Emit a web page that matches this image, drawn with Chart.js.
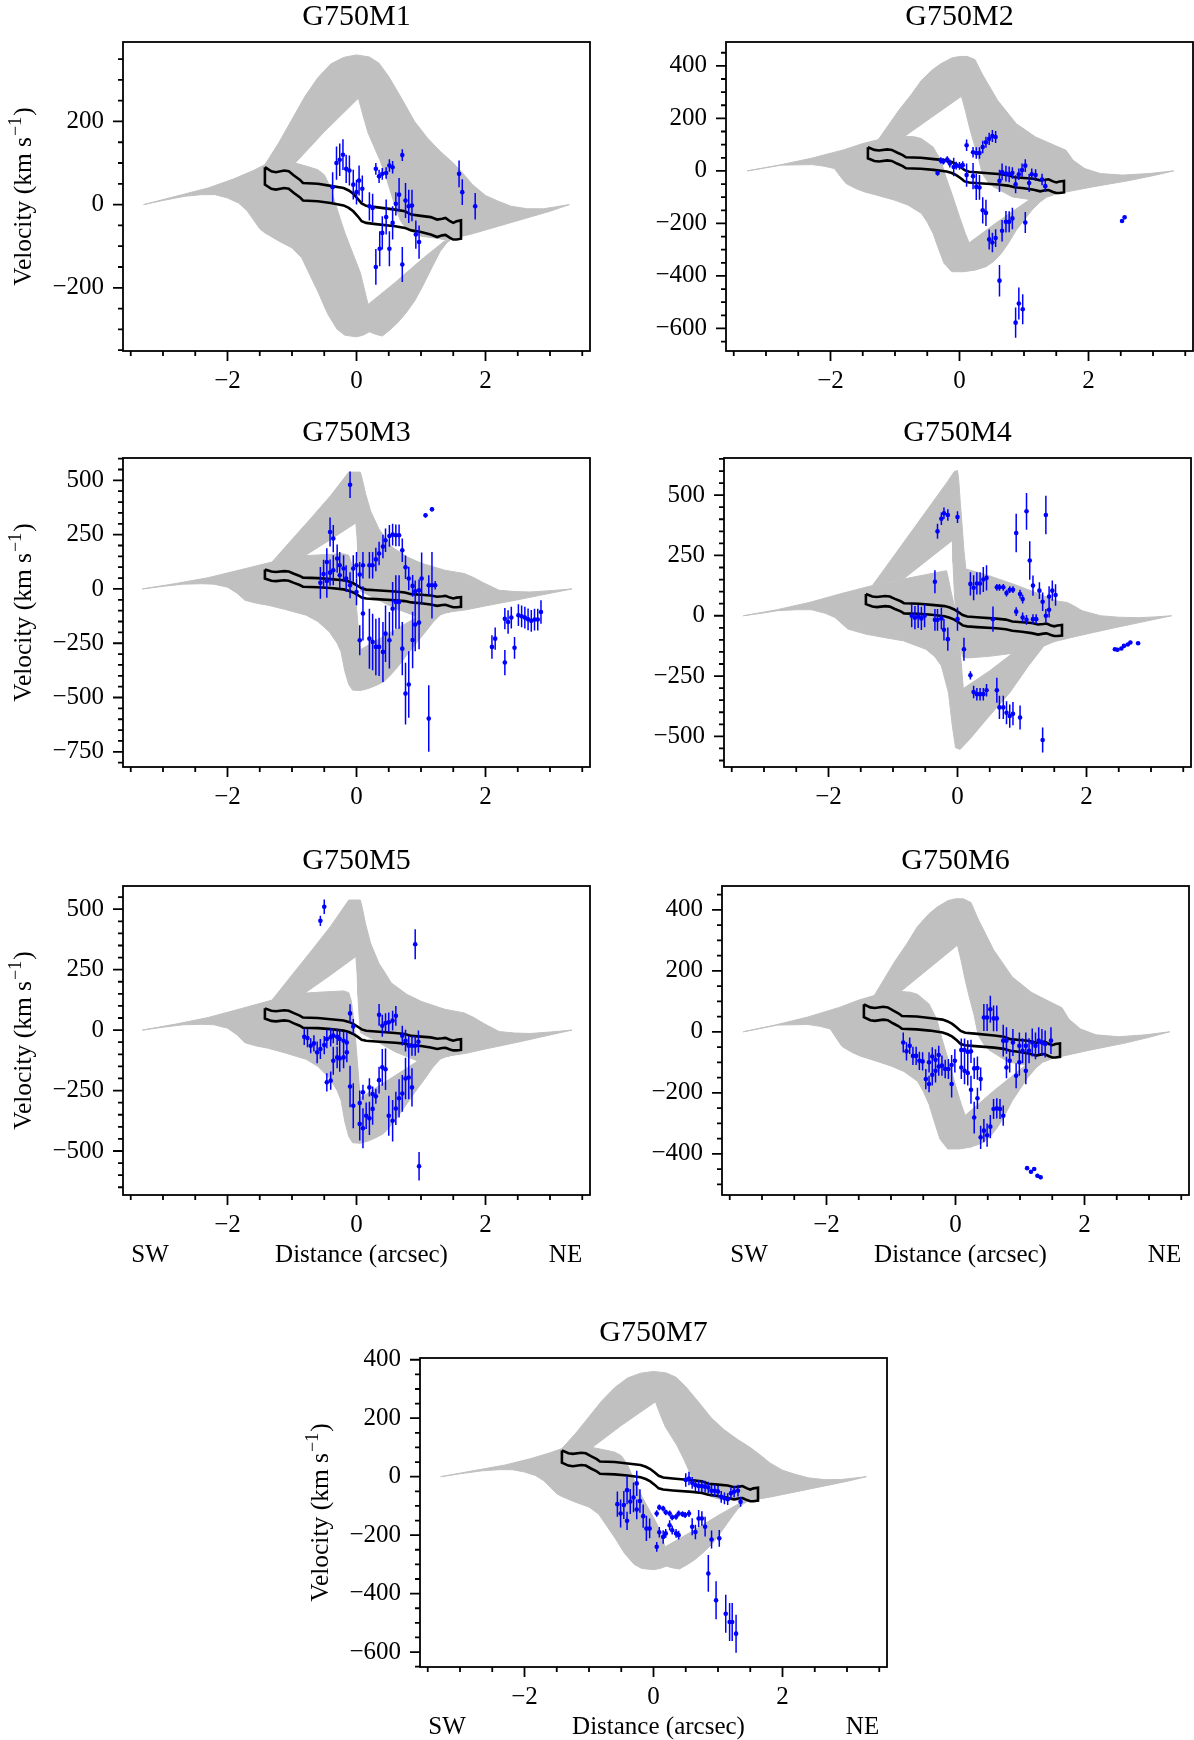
<!DOCTYPE html>
<html>
<head>
<meta charset="utf-8">
<script src="https://cdn.jsdelivr.net/npm/chart.js@4.4.1/dist/chart.umd.min.js"></script>
<style>
  body { margin: 0; background: #fff; }
  #page { position: relative; width: 1194px; height: 1740px; overflow: hidden; background: #fff; }
  #page canvas { position: absolute; }
</style>
</head>
<body>
<div id="page"></div>
<script>
// ---- model envelopes: [distance, velocity] along each edge ----
// band "U" = upper / NE side, band "L" = lower / SW side
const aUHi = [[-1.42,96],[-1.2,150],[-1.0,205],[-0.8,260],[-0.6,305],[-0.4,338],[-0.2,354],[0,360],[0.2,355],[0.35,340],[0.5,308],[0.7,255],[0.9,200],[1.1,160],[1.3,128],[1.5,100],[1.65,75],[1.8,48],[2.0,22],[2.2,8],[2.4,-4],[2.65,-10],[2.9,-10],[3.1,-5],[3.3,0]];
const aULo = [[-1.42,96],[-0.95,100],[-0.5,175],[0.03,256],[0.1,215],[0.18,172],[0.27,140],[0.36,108],[0.47,60],[0.59,0],[0.68,-38],[0.77,-58],[1.0,-76],[1.2,-80],[1.36,-84],[1.48,-82],[1.8,-70],[2.2,-52],[2.6,-34],[3.0,-16],[3.3,0]];
const aLHi = [[-3.3,0],[-2.8,20],[-2.3,40],[-1.9,62],[-1.6,82],[-1.42,96],[-1.2,98],[-0.95,100],[-0.77,92],[-0.6,84],[-0.5,72],[-0.41,44],[-0.33,4],[-0.25,-35],[-0.18,-68],[-0.05,-120],[0.06,-164],[0.18,-240],[0.6,-187],[1.0,-133],[1.36,-88],[1.48,-82]];
const aLLo = [[-3.3,0],[-3.0,10],[-2.66,20],[-2.4,24],[-2.19,24],[-2.0,16],[-1.83,4],[-1.7,-14],[-1.6,-36],[-1.5,-58],[-1.42,-68],[-1.2,-88],[-1.0,-104],[-0.85,-128],[-0.72,-170],[-0.59,-212],[-0.45,-262],[-0.3,-300],[-0.18,-314],[0.0,-318],[0.1,-314],[0.2,-306],[0.3,-312],[0.4,-316],[0.53,-300],[0.65,-282],[0.77,-260],[0.9,-232],[1.0,-204],[1.18,-148],[1.3,-112],[1.4,-92],[1.48,-82]];

const bUHi = [[-1.26,119],[-1.1,175],[-0.94,231],[-0.75,290],[-0.59,345],[-0.42,385],[-0.29,408],[-0.12,430],[0.0,436],[0.12,436],[0.24,424],[0.35,370],[0.59,269],[0.88,180],[1.18,129],[1.47,98],[1.65,79],[1.76,41],[1.94,9],[2.18,-10],[2.53,-16],[2.94,-10],[3.32,0]];
const bULo = [[-1.26,119],[-0.85,132],[0.03,284],[0.09,231],[0.15,170],[0.21,117],[0.29,53],[0.35,-10],[0.45,-45],[0.53,-61],[0.82,-99],[1.09,-109],[1.3,-100],[1.53,-86],[2.06,-61],[2.65,-36],[3.0,-18],[3.32,0]];
const bLHi = [[-3.29,0],[-2.8,22],[-2.3,48],[-1.8,80],[-1.5,104],[-1.26,119],[-1.05,126],[-0.85,132],[-0.7,130],[-0.59,123],[-0.41,91],[-0.29,41],[-0.21,-23],[-0.12,-86],[0.0,-175],[0.09,-238],[0.15,-274],[0.59,-194],[1.09,-109],[1.3,-100],[1.45,-92]];
const bLLo = [[-3.29,0],[-3.0,12],[-2.76,22],[-2.29,24],[-2.1,18],[-1.94,9],[-1.85,-20],[-1.76,-48],[-1.6,-68],[-1.47,-80],[-1.2,-98],[-1.0,-112],[-0.8,-130],[-0.59,-162],[-0.5,-195],[-0.41,-238],[-0.32,-300],[-0.24,-352],[-0.12,-384],[0.06,-384],[0.24,-378],[0.41,-365],[0.53,-345],[0.65,-314],[0.76,-275],[0.88,-226],[1.0,-188],[1.12,-150],[1.25,-118],[1.35,-100],[1.45,-92]];

const cUHi = [[-1.31,124],[-1.0,228],[-0.7,328],[-0.4,430],[-0.12,538],[0.06,538],[0.09,505],[0.14,440],[0.22,358],[0.35,275],[0.42,247],[0.54,195],[0.78,148],[1.01,118],[1.37,86],[1.67,71],[1.82,52],[1.97,28],[2.21,-6],[2.45,-12],[2.69,-14],[3.0,-8],[3.34,0]];
const cULo = [[-1.31,124],[-0.8,153],[-0.4,228],[-0.01,304],[0.01,230],[0.02,150],[0.04,60],[0.06,-10],[0.3,-45],[0.6,-90],[0.95,-128],[1.2,-115],[1.45,-106],[1.7,-96],[2.0,-78],[2.5,-50],[3.0,-20],[3.34,0]];
const cLHi = [[-3.32,0],[-2.8,25],[-2.3,52],[-1.8,88],[-1.31,124],[-1.0,142],[-0.8,153],[-0.5,158],[-0.2,162],[-0.12,155],[-0.08,120],[-0.05,60],[-0.02,-20],[0.01,-120],[0.04,-220],[0.06,-280],[0.5,-205],[0.95,-128],[1.2,-115],[1.45,-106]];
const cLLo = [[-3.32,0],[-3.0,12],[-2.69,22],[-2.4,24],[-2.21,22],[-2.0,8],[-1.85,-20],[-1.73,-52],[-1.55,-66],[-1.37,-75],[-1.1,-95],[-0.78,-121],[-0.6,-150],[-0.42,-198],[-0.3,-250],[-0.24,-290],[-0.18,-380],[-0.12,-440],[-0.06,-466],[0.06,-468],[0.18,-459],[0.3,-445],[0.42,-428],[0.55,-390],[0.66,-351],[0.78,-305],[0.9,-259],[1.05,-205],[1.19,-152],[1.3,-120],[1.37,-112],[1.45,-106]];

const dUHi = [[-1.32,125],[-1.0,243],[-0.7,354],[-0.4,465],[-0.15,558],[-0.05,598],[0.0,602],[0.02,560],[0.04,480],[0.07,380],[0.1,270],[0.13,194],[0.5,165],[0.9,128],[1.25,92],[1.52,62],[1.7,55],[1.8,42],[1.93,21],[2.22,0],[2.5,-6],[2.8,-8],[3.05,-5],[3.32,0]];
const dULo = [[-1.32,125],[-0.84,152],[-0.08,312],[-0.07,220],[-0.05,100],[-0.03,20],[0.0,-60],[0.04,-130],[0.08,-170],[0.15,-175],[0.5,-168],[0.87,-155],[1.2,-140],[1.45,-112],[1.55,-104],[1.8,-88],[2.11,-69],[2.4,-52],[2.7,-35],[3.0,-18],[3.32,0]];
const dLHi = [[-3.32,0],[-2.8,25],[-2.3,55],[-1.8,92],[-1.32,125],[-1.0,140],[-0.84,152],[-0.5,170],[-0.17,187],[-0.14,152],[-0.1,100],[-0.05,42],[0.01,-83],[0.05,-170],[0.07,-235],[0.09,-302],[0.5,-228],[0.87,-152],[1.2,-135],[1.45,-112]];
const dLLo = [[-3.32,0],[-3.0,12],[-2.79,21],[-2.5,25],[-2.26,25],[-2.05,10],[-1.9,-7],[-1.7,-55],[-1.43,-76],[-1.1,-92],[-0.84,-104],[-0.49,-139],[-0.35,-170],[-0.25,-208],[-0.14,-319],[-0.08,-457],[-0.03,-547],[0.04,-554],[0.19,-512],[0.45,-429],[0.81,-319],[1.1,-208],[1.34,-125],[1.45,-112]];

// slit footprint of the rotation-curve fit (closed outline)
const fitOutline = [[-1.42,90],[-1.32,80],[-1.25,78],[-1.12,82],[-1.05,80],[-0.97,70],[-0.88,60],[-0.83,52],[-0.6,50],[-0.4,45],[-0.2,40],[-0.12,34],[-0.05,26],[0.02,14],[0.08,3],[0.15,-3],[0.3,-6],[0.6,-12],[0.75,-16],[0.85,-24],[1.0,-27],[1.15,-30],[1.25,-36],[1.33,-34],[1.38,-32],[1.45,-40],[1.5,-44],[1.55,-40],[1.62,-38],
  [1.62,-82],[1.55,-84],[1.5,-84],[1.45,-80],[1.38,-73],[1.33,-74],[1.25,-78],[1.15,-72],[1.0,-66],[0.85,-62],[0.75,-56],[0.6,-52],[0.3,-47],[0.15,-44],[0.08,-40],[0.02,-28],[-0.05,-16],[-0.12,-8],[-0.2,-2],[-0.4,4],[-0.6,8],[-0.83,10],[-0.88,18],[-0.97,28],[-1.05,38],[-1.12,40],[-1.25,36],[-1.32,38],[-1.42,48],[-1.42,90]];

// ---- measured velocities: [distance (arcsec), velocity (km/s), error] ----
const g750m1 = [[-0.37,42,36],[-0.31,100,40],[-0.26,108,39],[-0.21,120,37],[-0.16,86,34],[-0.11,82,36],[-0.05,48,36],[0.0,30,30],[0.04,58,36],[0.09,38,32],[0.2,-4,34],[0.25,-8,34],[0.3,86,14],[0.35,68,16],[0.4,74,14],[0.46,76,14],[0.51,94,15],[0.56,90,15],[0.71,119,14],[0.61,2,28],[0.66,24,40],[0.76,10,42],[0.81,-4,40],[0.86,-2,38],[0.92,-72,34],[0.97,-90,40],[0.3,-150,43],[0.36,-106,42],[0.4,-68,40],[0.46,-30,42],[0.51,-106,42],[0.56,-44,40],[0.71,-144,42],[1.59,74,32],[1.64,30,31],[1.84,-4,32]];
const g750m2 = [[-0.34,-8,10],[-0.29,40,12],[-0.25,36,12],[-0.19,43,13],[-0.15,28,15],[-0.09,15,35],[-0.05,20,15],[0.0,19,15],[0.05,22,15],[0.11,98,22],[0.11,-16,44],[0.21,71,20],[0.21,-20,50],[0.26,68,22],[0.26,-61,50],[0.31,68,22],[0.31,-63,47],[0.36,91,24],[0.36,-150,50],[0.41,109,21],[0.41,-160,50],[0.46,122,23],[0.51,133,23],[0.56,129,23],[0.46,-261,38],[0.51,-273,37],[0.56,-256,34],[0.62,-38,42],[0.66,-4,32],[0.66,-228,41],[0.72,-10,30],[0.72,-194,41],[0.77,-13,30],[0.77,-194,40],[0.82,-8,22],[0.82,-181,41],[0.87,-51,34],[0.92,-13,22],[0.97,3,25],[1.02,20,24],[1.02,-197,40],[1.08,-46,34],[1.12,-13,22],[1.18,-16,22],[1.28,-33,22],[1.33,-58,22],[0.62,-418,60],[0.87,-578,58],[0.92,-505,61],[0.98,-527,57],[2.52,-191,5],[2.56,-177,5]];
const g750m3 = [[-0.56,28,73],[-0.51,69,65],[-0.46,124,63],[-0.46,37,77],[-0.41,262,67],[-0.41,75,60],[-0.36,232,63],[-0.36,86,69],[-0.3,140,65],[-0.26,109,61],[-0.26,63,60],[-0.2,94,61],[-0.16,48,61],[-0.1,17,60],[-0.1,480,61],[-0.05,94,61],[0.0,109,61],[0.0,-14,61],[0.05,66,58],[0.05,-236,69],[0.1,109,61],[0.1,-113,125],[0.2,-229,138],[0.2,109,61],[0.25,109,61],[0.25,-244,130],[0.3,136,54],[0.3,-267,130],[0.35,163,54],[0.35,-267,134],[0.41,195,54],[0.41,-290,138],[0.45,224,54],[0.45,-206,130],[0.51,244,50],[0.51,-236,130],[0.56,250,50],[0.56,-91,123],[0.61,247,50],[0.61,-60,123],[0.66,247,50],[0.66,-60,123],[0.71,178,54],[0.71,-275,123],[0.76,100,54],[0.76,-482,142],[0.81,48,54],[0.81,-440,153],[0.87,14,50],[0.87,-235,130],[0.91,-11,50],[0.91,-164,123],[0.97,-6,50],[0.97,-155,123],[1.01,48,120],[1.07,339,10],[1.12,17,46],[1.12,-597,153],[1.17,367,10],[1.17,17,153],[1.22,17,20],[2.1,-267,54],[2.15,-229,51],[2.3,-137,49],[2.3,-339,58],[2.35,-152,54],[2.4,-132,50],[2.45,-271,50],[2.51,-121,50],[2.56,-126,50],[2.61,-132,50],[2.66,-140,50],[2.71,-147,50],[2.76,-141,50],[2.81,-141,50],[2.86,-106,54]];
const g750m4 = [[-0.71,0,48],[-0.66,-8,48],[-0.61,-3,48],[-0.56,-11,48],[-0.51,0,48],[-0.35,141,48],[-0.35,-17,45],[-0.31,350,31],[-0.31,-17,45],[-0.25,402,26],[-0.25,-11,45],[-0.21,425,24],[-0.21,-58,45],[-0.15,418,24],[-0.15,-97,48],[0.0,409,24],[0.0,-14,48],[0.1,-139,48],[0.2,-247,17],[0.2,132,48],[0.25,116,52],[0.3,134,46],[0.35,134,46],[0.25,-316,26],[0.3,-325,26],[0.35,-325,26],[0.4,-325,26],[0.45,-309,26],[0.4,150,52],[0.45,157,52],[0.55,-14,52],[0.61,-309,52],[0.61,118,14],[0.65,118,14],[0.71,118,14],[0.65,-380,48],[0.71,-380,48],[0.76,94,14],[0.76,-402,48],[0.81,108,14],[0.81,-416,48],[0.86,108,14],[0.86,-406,48],[0.91,343,80],[0.91,17,18],[0.97,90,18],[0.97,-422,50],[1.01,69,18],[1.01,-7,20],[1.07,433,76],[1.07,-17,20],[1.12,229,80],[1.17,125,42],[1.17,-14,20],[1.22,-14,20],[1.27,104,35],[1.32,-515,52],[1.32,58,38],[1.37,418,80],[1.37,0,28],[1.42,80,42],[1.42,25,32],[1.47,104,42],[1.52,86,45],[2.44,-139,6],[2.48,-141,6],[2.54,-136,6],[2.58,-125,6],[2.64,-119,6],[2.68,-111,6],[2.8,-114,6]];
const g750m5 = [[-0.56,452,21],[-0.5,510,30],[-0.81,-28,34],[-0.76,-33,38],[-0.71,-65,31],[-0.66,-55,34],[-0.61,-92,45],[-0.56,-78,41],[-0.5,-62,38],[-0.46,-37,38],[-0.46,-216,38],[-0.4,-209,38],[-0.4,-30,38],[-0.36,-127,58],[-0.36,-23,31],[-0.3,-113,45],[-0.3,-28,34],[-0.26,-117,55],[-0.26,-37,38],[-0.2,-113,45],[-0.2,-44,38],[-0.15,-92,41],[-0.15,-51,41],[-0.1,-233,86],[-0.1,69,38],[-0.05,15,31],[-0.05,-313,93],[0.05,-302,52],[0.05,-388,69],[0.1,-406,83],[0.1,-257,31],[0.15,-354,55],[0.2,-365,69],[0.2,-237,38],[0.25,-326,65],[0.25,-264,31],[0.3,-274,31],[0.35,-207,55],[0.35,63,45],[0.4,18,45],[0.4,-154,76],[0.45,-162,86],[0.45,29,41],[0.5,32,41],[0.5,-354,83],[0.56,-375,86],[0.56,39,41],[0.61,59,41],[0.61,-324,69],[0.66,-282,79],[0.71,-262,76],[0.71,-23,41],[0.76,-44,45],[0.76,-200,86],[0.81,-196,90],[0.81,-65,41],[0.86,-237,79],[0.86,-65,41],[0.91,-65,41],[0.91,355,62],[0.96,-48,46],[0.97,-563,59]];
const g750m6 = [[-0.81,-35,33],[-0.76,-64,30],[-0.71,-46,27],[-0.66,-79,30],[-0.61,-79,30],[-0.56,-95,30],[-0.51,-97,30],[-0.46,-155,33],[-0.41,-171,27],[-0.41,-100,33],[-0.36,-141,35],[-0.36,-81,30],[-0.31,-128,38],[-0.31,-92,35],[-0.26,-114,30],[-0.26,-76,30],[-0.21,-111,33],[-0.16,-122,30],[-0.11,-122,33],[-0.06,-171,44],[-0.06,-109,33],[-0.01,-95,38],[0.09,-60,38],[0.09,-117,38],[0.14,-60,38],[0.14,-128,44],[0.19,-66,38],[0.19,-135,41],[0.24,-64,38],[0.24,-190,46],[0.29,-120,35],[0.29,-281,52],[0.34,-119,38],[0.34,-218,35],[0.39,-155,38],[0.39,-346,38],[0.44,-324,38],[0.44,47,44],[0.49,-339,38],[0.49,47,44],[0.54,-311,38],[0.54,74,44],[0.59,44,42],[0.59,-253,33],[0.64,44,42],[0.64,-251,33],[0.69,-253,33],[0.74,-29,52],[0.74,-275,33],[0.79,-29,44],[0.79,-117,35],[0.84,-95,38],[0.89,-35,44],[0.94,-144,41],[0.99,-100,44],[0.99,-46,44],[1.04,-62,41],[1.09,-128,44],[1.09,-46,44],[1.14,-62,41],[1.19,-35,46],[1.24,-46,44],[1.29,-29,44],[1.34,-35,44],[1.39,-40,44],[1.48,-29,44],[1.11,-447,6],[1.17,-459,6],[1.22,-450,6],[1.27,-472,6],[1.32,-477,6]];
const g750m7 = [[-0.56,-94,43],[-0.51,-126,48],[-0.46,-97,48],[-0.41,-151,31],[-0.41,-46,48],[-0.36,-85,43],[-0.31,-71,51],[-0.26,-23,43],[-0.26,-112,34],[-0.21,-83,40],[-0.16,-135,40],[-0.11,-177,43],[-0.06,-177,34],[0.05,-240,17],[0.05,-126,11],[0.09,-105,10],[0.09,-190,18],[0.15,-109,10],[0.15,-206,23],[0.19,-194,15],[0.19,-122,10],[0.25,-126,10],[0.25,-166,17],[0.29,-183,15],[0.29,-139,10],[0.35,-137,10],[0.35,-194,15],[0.39,-200,15],[0.39,-126,10],[0.45,-128,10],[0.49,-131,10],[0.55,-126,12],[0.5,-11,23],[0.55,-6,23],[0.6,-21,20],[0.6,-171,29],[0.65,-29,20],[0.65,-189,25],[0.7,-32,20],[0.7,-143,29],[0.75,-32,20],[0.75,-143,25],[0.8,-34,20],[0.8,-171,34],[0.85,-37,20],[0.85,-331,63],[0.9,-48,20],[0.9,-215,31],[0.95,-48,20],[0.97,-423,65],[1.0,-51,20],[1.02,-211,29],[1.05,-69,20],[1.1,-74,20],[1.12,-469,65],[1.15,-77,20],[1.18,-497,65],[1.22,-497,65],[1.2,-57,20],[1.25,-51,20],[1.28,-537,65],[1.31,-48,20],[1.35,-86,17]];

// ---- axes ----
const xTicks = [-2, 0, 2];
const yTicks1 = [-200, 0, 200];
const yTicks2 = [-600, -400, -200, 0, 200, 400];
const yTicks3 = [-750, -500, -250, 0, 250, 500];
const yTicks4 = [-500, -250, 0, 250, 500];
const yTicks5 = [-500, -250, 0, 250, 500];
const yTicks6 = [-400, -200, 0, 200, 400];
const yTicks7 = [-600, -400, -200, 0, 200, 400];

const X_MIN = -3.62, X_MAX = 3.62;
const FONT = '"Liberation Serif", "Times New Roman", serif';
const GRAY = '#c0c0c0';
const BLUE = '#0000ff';

Chart.defaults.font.family = FONT;

const models = {
  A: [aUHi, aULo, aLHi, aLLo],
  B: [bUHi, bULo, bLHi, bLLo],
  C: [cUHi, cULo, cLHi, cLLo],
  D: [dUHi, dULo, dLHi, dLLo]
};

// panel layout (plot box left/top in page pixels)
const BOX_W = 467, BOX_H = 309;
const panels = [
  { title: 'G750M1', pts: g750m1, model: 'A', yMin: -352, yMax: 391, yTicks: yTicks1, left: 123, top: 42, yLabel: true, xLabel: false },
  { title: 'G750M2', pts: g750m2, model: 'B', yMin: -686, yMax: 491, yTicks: yTicks2, left: 726, top: 42, yLabel: false, xLabel: false },
  { title: 'G750M3', pts: g750m3, model: 'C', yMin: -820, yMax: 603, yTicks: yTicks3, left: 123, top: 458, yLabel: true, xLabel: false },
  { title: 'G750M4', pts: g750m4, model: 'D', yMin: -627, yMax: 654, yTicks: yTicks4, left: 724, top: 458, yLabel: false, xLabel: false },
  { title: 'G750M5', pts: g750m5, model: 'C', yMin: -682, yMax: 596, yTicks: yTicks5, left: 123, top: 886, yLabel: true, xLabel: true },
  { title: 'G750M6', pts: g750m6, model: 'B', yMin: -535, yMax: 478, yTicks: yTicks6, left: 722, top: 886, yLabel: false, xLabel: true },
  { title: 'G750M7', pts: g750m7, model: 'A', yMin: -651, yMax: 406, yTicks: yTicks7, left: 420, top: 1358, yLabel: true, xLabel: true }
];

const M_LEFT = 125, M_TOP = 50, M_RIGHT = 12, M_BOTTOM = 85;
const TICK_FONT = { family: FONT, size: 25 };

const toXY = arr => arr.map(([x, y]) => ({ x, y }));
const fmt = v => (v < 0 ? '\u2212' + Math.abs(v) : String(v));

function decor(p) {
  return {
    id: 'decor',
    beforeDatasetDraw(chart, args) {
      if (args.index !== 0) return;
      // vertical error bars under the blue points
      const { ctx, chartArea: ca, scales } = chart;
      ctx.save();
      ctx.beginPath();
      ctx.rect(ca.left, ca.top, ca.right - ca.left, ca.bottom - ca.top);
      ctx.clip();
      ctx.strokeStyle = BLUE;
      ctx.lineWidth = 1.5;
      ctx.beginPath();
      p.pts.forEach(([d, v, e]) => {
        const px = scales.x.getPixelForValue(d);
        ctx.moveTo(px, scales.y.getPixelForValue(v + e));
        ctx.lineTo(px, scales.y.getPixelForValue(v - e));
      });
      ctx.stroke();
      ctx.restore();
    },
    afterDraw(chart) {
      const { ctx, chartArea: ca, scales } = chart;
      ctx.save();
      ctx.strokeStyle = '#000';
      ctx.lineWidth = 1.8;
      ctx.strokeRect(ca.left, ca.top, ca.right - ca.left, ca.bottom - ca.top);

      // major and minor tick marks, pointing outward
      ctx.beginPath();
      for (let k = -7; k <= 7; k++) {
        const v = k / 2;
        const len = xTicks.includes(v) ? 10 : 5;
        const px = scales.x.getPixelForValue(v);
        ctx.moveTo(px, ca.bottom);
        ctx.lineTo(px, ca.bottom + len);
      }
      for (let v = Math.ceil(p.yMin / 50) * 50; v <= p.yMax; v += 50) {
        const len = p.yTicks.includes(v) ? 10 : 5;
        const py = scales.y.getPixelForValue(v);
        ctx.moveTo(ca.left, py);
        ctx.lineTo(ca.left - len, py);
      }
      ctx.stroke();

      ctx.fillStyle = '#000';
      const cx = (ca.left + ca.right) / 2;
      ctx.font = '30px ' + FONT;
      ctx.textAlign = 'center';
      ctx.textBaseline = 'middle';
      ctx.fillText(p.title, cx, ca.top - 24.5);

      if (p.xLabel) {
        ctx.font = '25px ' + FONT;
        const y = ca.bottom + 60;
        ctx.fillText('SW', ca.left + 27, y);
        ctx.fillText('Distance (arcsec)', cx + 5, y);
        ctx.fillText('NE', ca.right - 24.5, y);
      }

      if (p.yLabel) {
        ctx.translate(ca.left - 100, (ca.top + ca.bottom) / 2);
        ctx.rotate(-Math.PI / 2);
        const main = '25.5px ' + FONT, sup = '18px ' + FONT;
        const t1 = 'Velocity (km s', t2 = '\u22121', t3 = ')';
        ctx.font = main;
        const w1 = ctx.measureText(t1).width, w3 = ctx.measureText(t3).width;
        ctx.font = sup;
        const w2 = ctx.measureText(t2).width;
        const x0 = -(w1 + w2 + w3 + 2) / 2;
        const base = 8;
        ctx.textAlign = 'left';
        ctx.textBaseline = 'alphabetic';
        ctx.font = main;
        ctx.fillText(t1, x0, base);
        ctx.font = sup;
        ctx.fillText(t2, x0 + w1 + 1, base - 10);
        ctx.font = main;
        ctx.fillText(t3, x0 + w1 + w2 + 2, base);
      }
      ctx.restore();
    }
  };
}

const page = document.getElementById('page');

panels.forEach(p => {
  const w = M_LEFT + BOX_W + M_RIGHT;
  const h = M_TOP + BOX_H + M_BOTTOM;
  const canvas = document.createElement('canvas');
  canvas.width = w;
  canvas.height = h;
  canvas.style.width = w + 'px';
  canvas.style.height = h + 'px';
  canvas.style.left = (p.left - M_LEFT) + 'px';
  canvas.style.top = (p.top - M_TOP) + 'px';
  page.appendChild(canvas);

  const [uHi, uLo, lHi, lLo] = models[p.model];
  const band = (data, fill) => ({
    data: toXY(data),
    borderColor: GRAY,
    borderWidth: 1,
    backgroundColor: GRAY,
    pointRadius: 0,
    fill: fill,
    tension: 0,
    order: 2
  });

  new Chart(canvas.getContext('2d'), {
    type: 'line',
    data: {
      datasets: [
        {
          data: p.pts.map(([x, y]) => ({ x, y })),
          showLine: false,
          pointRadius: 2.3,
          pointBorderWidth: 0,
          pointBackgroundColor: BLUE,
          backgroundColor: BLUE,
          borderColor: BLUE,
          order: 0
        },
        {
          data: toXY(fitOutline),
          borderColor: '#000',
          borderWidth: 2.6,
          pointRadius: 0,
          fill: false,
          tension: 0,
          order: 1
        },
        band(uHi, false),
        band(uLo, '-1'),
        band(lHi, false),
        band(lLo, '-1')
      ]
    },
    options: {
      animation: false,
      responsive: false,
      devicePixelRatio: 1,
      events: [],
      layout: { padding: { left: 0, top: M_TOP, right: M_RIGHT, bottom: 0 } },
      plugins: { legend: { display: false }, tooltip: { enabled: false }, title: { display: false } },
      scales: {
        x: {
          type: 'linear',
          min: X_MIN,
          max: X_MAX,
          grid: { display: false, drawTicks: false, tickLength: 0 },
          border: { display: false },
          ticks: { font: TICK_FONT, color: '#000', padding: 15, maxRotation: 0, autoSkip: false, callback: fmt },
          afterBuildTicks: s => { s.ticks = xTicks.map(v => ({ value: v })); },
          afterFit: s => { s.height = M_BOTTOM; }
        },
        y: {
          type: 'linear',
          min: p.yMin,
          max: p.yMax,
          grid: { display: false, drawTicks: false, tickLength: 0 },
          border: { display: false },
          ticks: { font: TICK_FONT, color: '#000', padding: 19, autoSkip: false, callback: fmt },
          afterBuildTicks: s => { s.ticks = p.yTicks.map(v => ({ value: v })); },
          afterFit: s => { s.width = M_LEFT; }
        }
      }
    },
    plugins: [decor(p)]
  });
});
</script>
</body>
</html>
